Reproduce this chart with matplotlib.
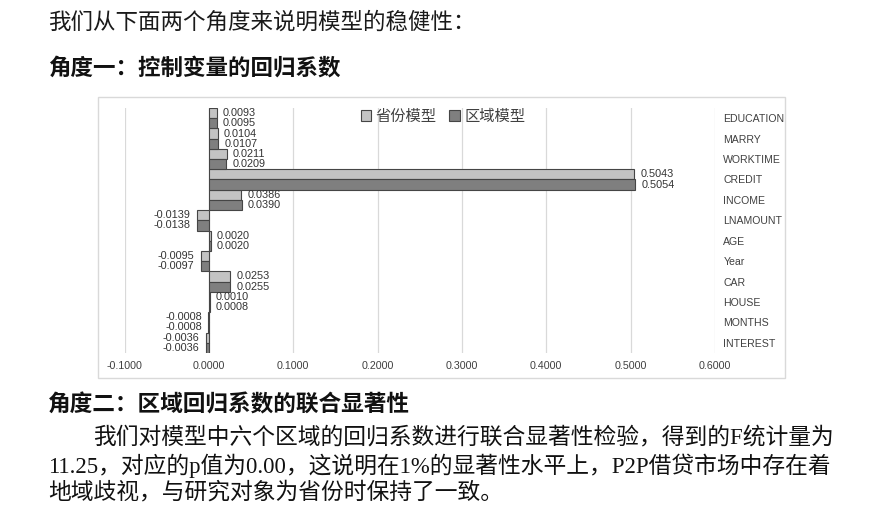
import matplotlib
matplotlib.use('Agg')
import matplotlib.pyplot as plt
import numpy as np
from matplotlib.patches import Rectangle

plt.rcParams['font.family'] = ['Liberation Sans', 'Noto Sans CJK SC']

# data (top -> bottom as in the picture)
categories = ['EDUCATION', 'MARRY', 'WORKTIME', 'CREDIT', 'INCOME', 'LNAMOUNT',
              'AGE', 'Year', 'CAR', 'HOUSE', 'MONTHS', 'INTEREST']
prov = [0.0093, 0.0104, 0.0211, 0.5043, 0.0386, -0.0139,
        0.0020, -0.0095, 0.0253, 0.0010, -0.0008, -0.0036]
region = [0.0095, 0.0107, 0.0209, 0.5054, 0.0390, -0.0138,
          0.0020, -0.0097, 0.0255, 0.0008, -0.0008, -0.0036]
xticks = [-0.1, 0.0, 0.1, 0.2, 0.3, 0.4, 0.5, 0.6]

W, H = 884, 527
fig = plt.figure(figsize=(W / 100, H / 100), dpi=100)

def fx(x):
    return x / W

def fy(y):
    return 1 - y / H

# document text
cjk = ['Noto Sans CJK SC']
serif = ['Liberation Serif', 'Noto Sans CJK SC']
fig.text(fx(48), fy(22), '我们从下面两个角度来说明模型的稳健性：', family=cjk,
         fontsize=16.2, va='center', color='#1a1a1a')
fig.text(fx(48), fy(68), '角度一：控制变量的回归系数', family=cjk,
         fontsize=16.2, fontweight='bold', va='center', color='#111111')
fig.text(fx(48), fy(405), '角度二：区域回归系数的联合显著性', family=cjk,
         fontsize=16.3, fontweight='bold', va='center', color='#111111')
para = ['我们对模型中六个区域的回归系数进行联合显著性检验，得到的F统计量为',
        '11.25，对应的p值为0.00，这说明在1%的显著性水平上，P2P借贷市场中存在着',
        '地域歧视，与研究对象为省份时保持了一致。']
fig.text(fx(93), fy(438), para[0], family=serif, fontsize=16.4, va='center', color='#111111')
fig.text(fx(48), fy(466), para[1], family=serif, fontsize=16.4, va='center', color='#111111')
fig.text(fx(48), fy(493), para[2], family=serif, fontsize=16.4, va='center', color='#111111')

# chart frame
fig.patches.append(Rectangle((fx(98), fy(378)), fx(785) - fx(98), fy(97) - fy(378),
                             transform=fig.transFigure, fill=False,
                             edgecolor='#d9d9d9', linewidth=1))

ax = fig.add_axes([fx(124.5), fy(353), fx(715) - fx(124.5), fy(108) - fy(353)])

n = len(categories)
y = np.arange(n)
h = 0.5
b1 = ax.barh(y - h / 2, prov, height=h, color='#c3c3c3', edgecolor='#454545',
             linewidth=0.8, label='省份模型', zorder=3)
b2 = ax.barh(y + h / 2, region, height=h, color='#7f7f7f', edgecolor='#454545',
             linewidth=0.8, label='区域模型', zorder=3)

for bars, vals in ((b1, prov), (b2, region)):
    for bar, v in zip(bars, vals):
        yc = bar.get_y() + bar.get_height() / 2
        off = 4.5 if v >= 0 else -4.5
        ax.annotate('%.4f' % v, (v, yc), xytext=(off, 0), textcoords='offset points',
                    ha='left' if v >= 0 else 'right', va='center',
                    fontsize=7.8, color='#333333')

ax.set_xlim(-0.1, 0.6)
ax.set_ylim(n - 0.5, -0.5)
ax.set_xticks(xticks)
ax.set_xticklabels(['%.4f' % t for t in xticks], fontsize=7.7, color='#404040')
ax.set_yticks(y)
ax.set_yticklabels(categories, fontsize=7.6, color='#404040')
ax.yaxis.tick_right()
ax.tick_params(axis='y', length=0, pad=6)
ax.tick_params(axis='x', length=0, pad=6)
for lab in ax.get_yticklabels():
    lab.set_ha('left')
for s in ax.spines.values():
    s.set_visible(False)
ax.grid(axis='x', color='#d9d9d9', linewidth=0.9, zorder=0)
ax.set_facecolor('none')

leg = ax.legend(loc='center', bbox_to_anchor=(fx(443), fy(116)),
                bbox_transform=fig.transFigure, ncol=2, frameon=False,
                prop={'family': cjk, 'size': 11}, handlelength=0.7, handleheight=0.7,
                handletextpad=0.3, columnspacing=0.8, labelcolor='#404040')

fig.savefig('out.png', dpi=100, facecolor='white')
